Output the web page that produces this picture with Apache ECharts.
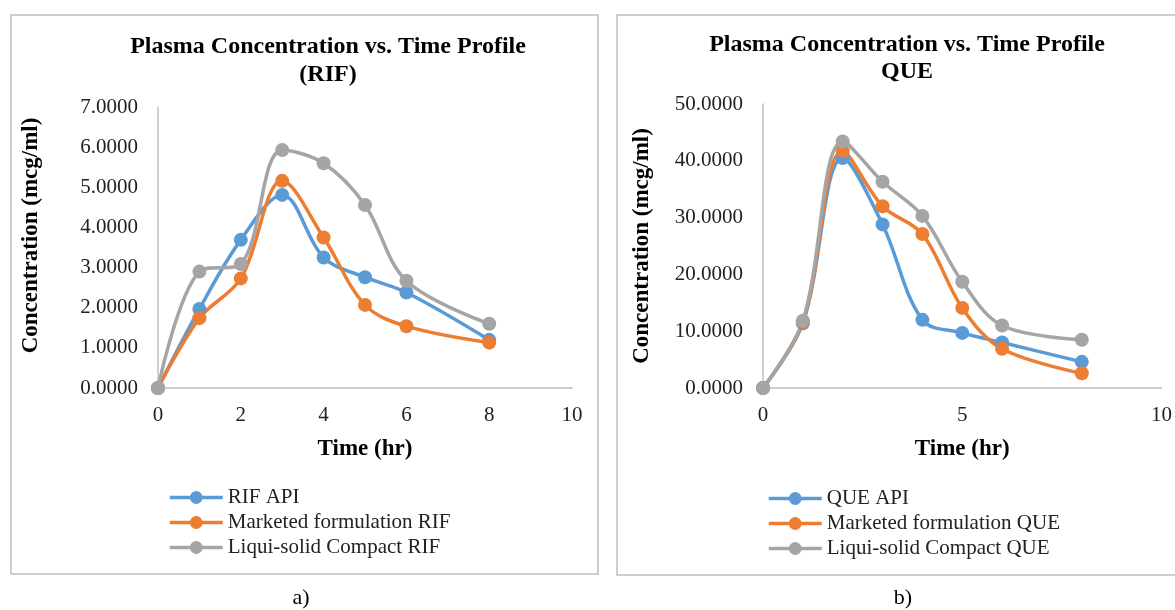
<!DOCTYPE html>
<html>
<head>
<meta charset="utf-8">
<script src="https://cdn.jsdelivr.net/npm/echarts@6/dist/echarts.min.js"></script>
<style>
  html, body { margin: 0; padding: 0; background: #fff; }
  #chart { width: 1175px; height: 610px; }
</style>
</head>
<body>
<div id="chart"></div>
<script>
// sampling times (hr)
var times = [0, 1, 2, 3, 4, 5, 6, 8];

// a) RIF
var rifApi = [0, 1.97, 3.69, 4.81, 3.25, 2.76, 2.38, 1.20];
var rifMarketed = [0, 1.74, 2.73, 5.16, 3.75, 2.07, 1.54, 1.13];
var rifLiqui = [0, 2.90, 3.09, 5.93, 5.60, 4.56, 2.67, 1.60];

// b) QUE
var queApi = [0, 11.4, 40.5, 28.8, 12.0, 9.7, 8.0, 4.6];
var queMarketed = [0, 11.6, 41.7, 32.0, 27.1, 14.1, 6.9, 2.6];
var queLiqui = [0, 11.85, 43.4, 36.3, 30.3, 18.7, 11.0, 8.5];

var seriesNames = [
    ['RIF API', 'Marketed formulation RIF', 'Liqui-solid Compact RIF'],
    ['QUE API', 'Marketed formulation QUE', 'Liqui-solid Compact QUE']
];
var colors = ['#5B9BD5', '#ED7D31', '#A5A5A5'];

var FONT = "'Liberation Serif', 'Times New Roman', serif";

function pairs(vals) {
    return times.map(function (t, i) { return [t, vals[i]]; });
}

function lineSeries(name, vals, idx, color) {
    return {
        name: name,
        type: 'line',
        xAxisIndex: idx,
        yAxisIndex: idx,
        smooth: 0.35,
        symbol: 'circle',
        symbolSize: 14,
        lineStyle: { width: 3.5, color: color },
        itemStyle: { color: color },
        data: pairs(vals)
    };
}

function xAxisOb(idx, interval) {
    return {
        type: 'value',
        gridIndex: idx,
        min: 0,
        max: 10,
        interval: interval,
        name: 'Time (hr)',
        nameLocation: 'middle',
        nameGap: 50,
        nameTextStyle: { fontFamily: FONT, fontSize: 23, fontWeight: 'bold', color: '#000' },
        axisLine: { show: true, lineStyle: { color: '#BFBFBF', width: 1.5 } },
        axisTick: { show: false },
        splitLine: { show: false },
        axisLabel: { margin: 17, fontFamily: FONT, fontSize: 21, color: '#222' }
    };
}

function yAxisOb(idx, max, interval, gap, pad) {
    return {
        type: 'value',
        gridIndex: idx,
        min: 0,
        max: max,
        interval: interval,
        name: 'Concentration (mcg/ml)',
        nameLocation: 'middle',
        nameGap: gap,
        nameRotate: 90,
        nameTextStyle: { fontFamily: FONT, fontSize: 23, fontWeight: 'bold', color: '#000', padding: pad },
        axisLine: { show: true, lineStyle: { color: '#BFBFBF', width: 1.5 } },
        axisTick: { show: false },
        splitLine: { show: false },
        axisLabel: {
            margin: 20, fontFamily: FONT, fontSize: 21, color: '#222',
            formatter: function (v) { return v.toFixed(4); }
        }
    };
}

function legendOb(idx, left, top) {
    return {
        data: seriesNames[idx],
        orient: 'vertical',
        left: left,
        top: top,
        itemWidth: 53,
        itemHeight: 16,
        itemGap: 0,
        lineStyle: { width: 3.5 },
        textStyle: { fontFamily: FONT, fontSize: 21, lineHeight: 25, color: '#222' }
    };
}

var chart = echarts.init(document.getElementById('chart'), null, { renderer: 'canvas' });

chart.setOption({
    animation: false,
    backgroundColor: '#fff',
    title: [{
        text: 'Plasma Concentration vs. Time Profile\n(RIF)',
        left: 323, top: 28,
        textAlign: 'center',
        textStyle: { fontFamily: FONT, fontSize: 24, fontWeight: 'bold', lineHeight: 28, color: '#000' }
    }, {
        text: 'Plasma Concentration vs. Time Profile\nQUE',
        left: 902, top: 26,
        textAlign: 'center',
        textStyle: { fontFamily: FONT, fontSize: 24, fontWeight: 'bold', lineHeight: 27, color: '#000' }
    }],
    legend: [legendOb(0, 163, 480), legendOb(1, 762, 481)],
    grid: [
        { left: 158, top: 107, width: 414, height: 281 },
        { left: 763, top: 104, width: 401, height: 284 }
    ],
    xAxis: [xAxisOb(0, 2), xAxisOb(1, 5)],
    yAxis: [yAxisOb(0, 7, 1, 115, [0, 0, 0, 24]), yAxisOb(1, 50, 10, 109, 0)],
    series: [
        lineSeries(seriesNames[0][0], rifApi, 0, colors[0]),
        lineSeries(seriesNames[0][1], rifMarketed, 0, colors[1]),
        lineSeries(seriesNames[0][2], rifLiqui, 0, colors[2]),
        lineSeries(seriesNames[1][0], queApi, 1, colors[0]),
        lineSeries(seriesNames[1][1], queMarketed, 1, colors[1]),
        lineSeries(seriesNames[1][2], queLiqui, 1, colors[2])
    ],
    graphic: [
        { type: 'rect', shape: { x: 11, y: 15, width: 587, height: 559 },
          style: { fill: null, stroke: '#BFBFBF', lineWidth: 1.5 }, silent: true, z: -1 },
        { type: 'rect', shape: { x: 617, y: 15, width: 580, height: 560 },
          style: { fill: null, stroke: '#BFBFBF', lineWidth: 1.5 }, silent: true, z: -1 },
        { type: 'text', x: 301, y: 598,
          style: { text: 'a)', font: '22px ' + FONT, fill: '#000', align: 'center', verticalAlign: 'middle' } },
        { type: 'text', x: 903, y: 598,
          style: { text: 'b)', font: '22px ' + FONT, fill: '#000', align: 'center', verticalAlign: 'middle' } }
    ]
});
</script>
</body>
</html>
